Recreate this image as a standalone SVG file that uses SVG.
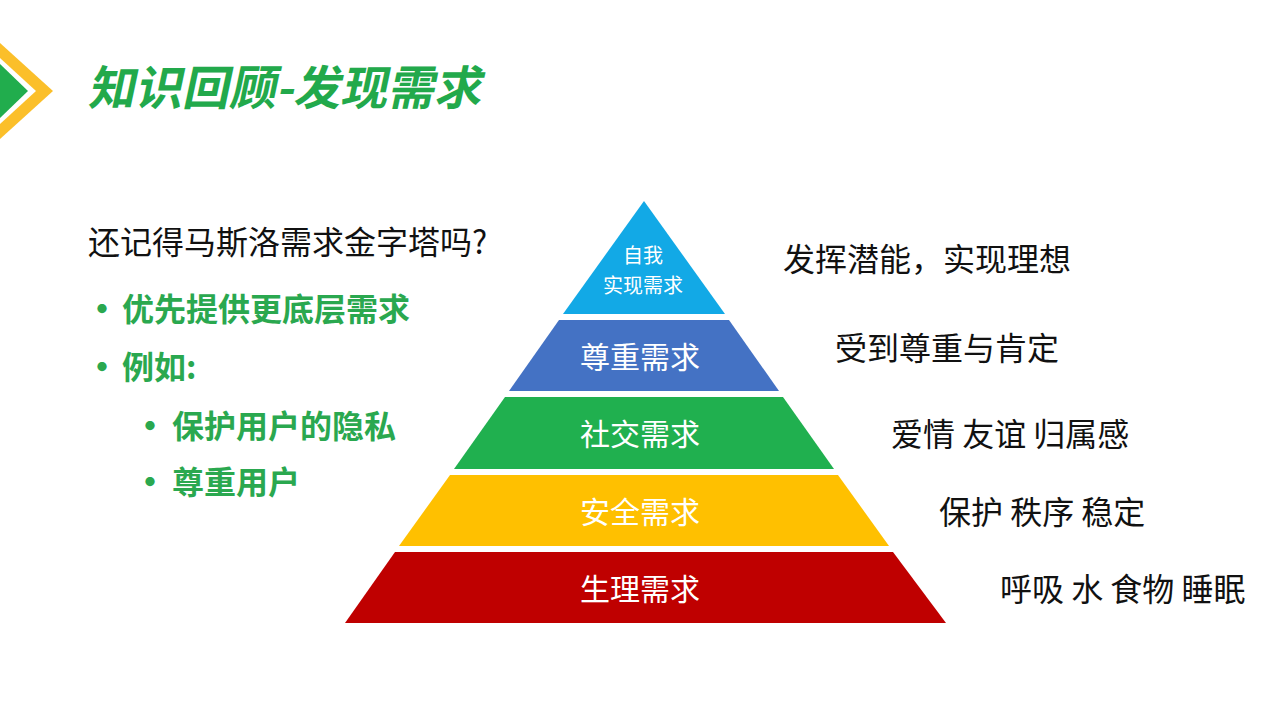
<svg xmlns="http://www.w3.org/2000/svg" width="1280" height="720" viewBox="0 0 1280 720">
<style>
.cn{font-family:"Noto Sans CJK SC","Noto Sans",sans-serif;}
.lbl{fill:#ffffff;font-size:30px;text-anchor:middle;dominant-baseline:central;}
.small{font-size:20px;}
.rt{fill:#111111;font-size:32px;dominant-baseline:central;}
.bul{fill:#2aa84f;font-size:32px;font-weight:bold;dominant-baseline:central;}
.dot{fill:#2aa84f;font-size:36px;font-weight:bold;dominant-baseline:central;}
</style>
<rect width="1280" height="720" fill="#ffffff"/>
<g id="corner">
<polygon points="0,43 53,91 0,139" fill="#fbbf2a"/>
<polygon points="0,58 36,91 0,124" fill="#ffffff"/>
<polygon points="0,64 28,91 0,118" fill="#21ad4d"/>
</g>
<g id="title">
<text class="cn" x="88" y="105" font-size="47" font-weight="bold" fill="#22a94b" transform="skewX(-12) translate(22,0)">知识回顾-发现需求</text>
</g>
<g id="left-text">
<text class="cn" x="88" y="240" font-size="32" fill="#111111" dominant-baseline="central">还记得马斯洛需求金字塔吗?</text>
<text class="cn dot" x="84" y="307">•</text>
<text class="cn bul" x="122" y="307">优先提供更底层需求</text>
<text class="cn dot" x="84" y="365">•</text>
<text class="cn bul" x="122" y="365">例如:</text>
<text class="cn dot" x="132" y="424">•</text>
<text class="cn bul" x="172" y="424">保护用户的隐私</text>
<text class="cn dot" x="132" y="480">•</text>
<text class="cn bul" x="172" y="480">尊重用户</text>
</g>
<g id="layer-self">
<polygon points="644,201 725,314 563,314" fill="#12a9e6"/>
<text class="cn lbl small" x="643" y="254">自我</text>
<text class="cn lbl small" x="643" y="284">实现需求</text>
</g>
<g id="layer-esteem">
<polygon points="559,320 729,320 779,391 509,391" fill="#4472c4"/>
<text class="cn lbl" x="640" y="355">尊重需求</text>
</g>
<g id="layer-social">
<polygon points="505,397 783,397 834,469 454,469" fill="#20b04f"/>
<text class="cn lbl" x="640" y="432">社交需求</text>
</g>
<g id="layer-safety">
<polygon points="450,475 838,475 889,546 399,546" fill="#ffc000"/>
<text class="cn lbl" x="640" y="510">安全需求</text>
</g>
<g id="layer-physio">
<polygon points="395,552 893,552 946,623 345,623" fill="#bf0000"/>
<text class="cn lbl" x="640" y="587">生理需求</text>
</g>
<g id="right-text">
<text class="cn rt" x="783" y="257">发挥潜能，实现理想</text>
<text class="cn rt" x="835" y="346">受到尊重与肯定</text>
<text class="cn rt" x="891" y="432">爱情 友谊 归属感</text>
<text class="cn rt" x="939" y="510">保护 秩序 稳定</text>
<text class="cn rt" x="1000" y="587">呼吸 水 食物 睡眠</text>
</g>
</svg>
